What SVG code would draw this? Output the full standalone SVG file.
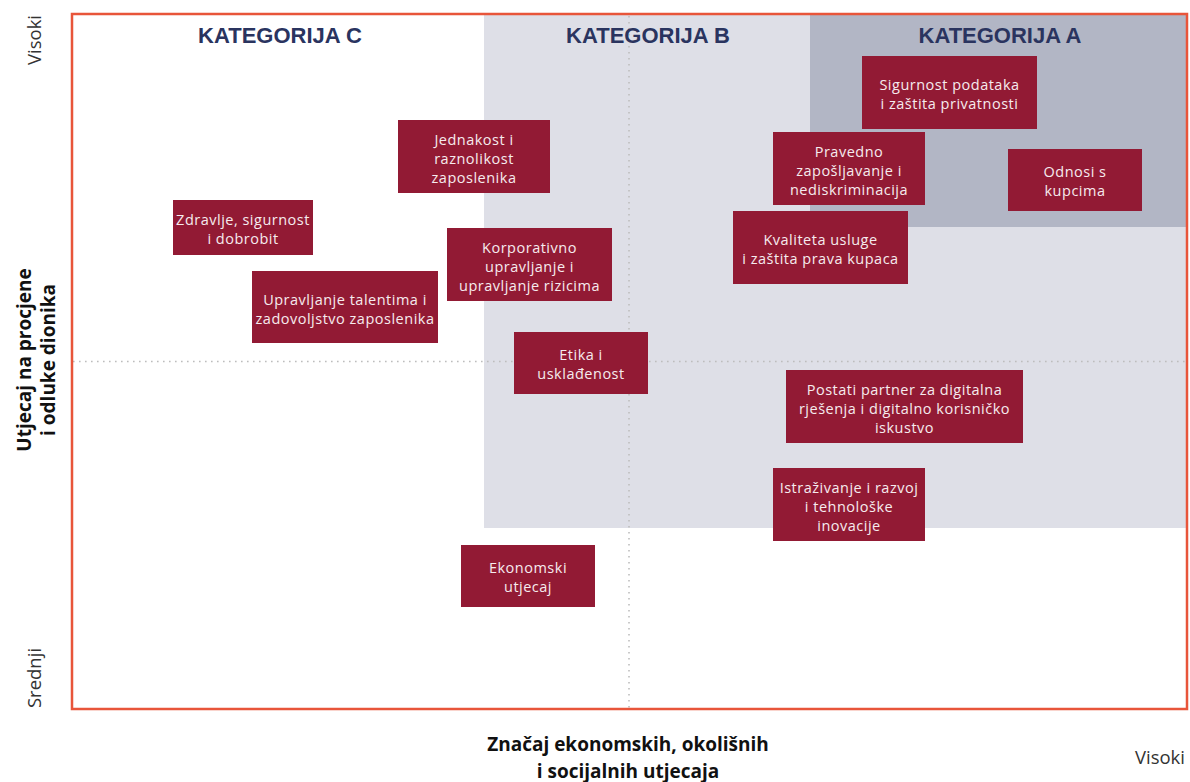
<svg xmlns="http://www.w3.org/2000/svg" width="1190" height="782" viewBox="0 0 1190 782">
<style>
.box{fill:#921A34}
.bt{font-family:"Open Sans","Liberation Sans",sans-serif;font-size:14.5px;letter-spacing:0.5px;fill:#F6EBEE;text-anchor:middle}
.hd{font-family:"Liberation Sans",Arial,sans-serif;font-size:22px;font-weight:bold;fill:#2A345F;text-anchor:middle}
.ax{font-family:"Open Sans","Liberation Sans",sans-serif;font-size:18.5px;fill:#333;text-anchor:middle}
.axb{font-family:"Open Sans","Liberation Sans",sans-serif;font-size:19px;font-weight:bold;fill:#111;text-anchor:middle}
.dot{stroke:#BDBDBD;stroke-width:1.6;stroke-dasharray:1.6 4.4;fill:none}
</style>
<rect width="1190" height="782" fill="#fff"/>
<g id="regions">
<rect x="484" y="14" width="703" height="514" fill="#DEDFE7"/>
<rect x="810" y="14" width="377" height="213" fill="#B2B6C5"/>
</g>
<g id="grid">
<line class="dot" x1="629" y1="16" x2="629" y2="708"/>
<line class="dot" x1="73" y1="361.5" x2="1186" y2="361.5"/>
</g>
<rect id="frame" x="72" y="14" width="1115" height="695" fill="none" stroke="#E8553A" stroke-width="2.5"/>
<g id="headers">
<text class="hd" x="280" y="43">KATEGORIJA C</text>
<text class="hd" x="648" y="43">KATEGORIJA B</text>
<text class="hd" x="1000" y="43">KATEGORIJA A</text>
</g>
<g id="n1"><rect class="box" x="862" y="56" width="175" height="73"/><text class="bt" x="949.5" y="89.5">Sigurnost podataka</text><text class="bt" x="949.5" y="108.5">i zaštita privatnosti</text></g>
<g id="n2"><rect class="box" x="398" y="120" width="152" height="73"/><text class="bt" x="474" y="144.5">Jednakost i</text><text class="bt" x="474" y="163.5">raznolikost</text><text class="bt" x="474" y="182.5">zaposlenika</text></g>
<g id="n3"><rect class="box" x="773" y="132" width="152" height="73"/><text class="bt" x="849" y="156.5">Pravedno</text><text class="bt" x="849" y="175.5">zapošljavanje i</text><text class="bt" x="849" y="194.5">nediskriminacija</text></g>
<g id="n4"><rect class="box" x="1008" y="149" width="134" height="62"/><text class="bt" x="1075" y="176.5">Odnosi s</text><text class="bt" x="1075" y="195.5">kupcima</text></g>
<g id="n5"><rect class="box" x="173" y="200" width="140" height="55"/><text class="bt" x="243" y="224.5">Zdravlje, sigurnost</text><text class="bt" x="243" y="243.5">i dobrobit</text></g>
<g id="n6"><rect class="box" x="733" y="211" width="175" height="73"/><text class="bt" x="820.5" y="244.5">Kvaliteta usluge</text><text class="bt" x="820.5" y="263.5">i zaštita prava kupaca</text></g>
<g id="n7"><rect class="box" x="447" y="228" width="165" height="73"/><text class="bt" x="529.5" y="252.5">Korporativno</text><text class="bt" x="529.5" y="271.5">upravljanje i</text><text class="bt" x="529.5" y="290.5">upravljanje rizicima</text></g>
<g id="n8"><rect class="box" x="252" y="271" width="186" height="72"/><text class="bt" x="345" y="304.5">Upravljanje talentima i</text><text class="bt" x="345" y="323.5">zadovoljstvo zaposlenika</text></g>
<g id="n9"><rect class="box" x="514" y="332" width="134" height="62"/><text class="bt" x="581" y="359.5">Etika i</text><text class="bt" x="581" y="378.5">usklađenost</text></g>
<g id="n10"><rect class="box" x="786" y="370" width="237" height="73"/><text class="bt" x="904.5" y="394.5">Postati partner za digitalna</text><text class="bt" x="904.5" y="413.5">rješenja i digitalno korisničko</text><text class="bt" x="904.5" y="432.5">iskustvo</text></g>
<g id="n11"><rect class="box" x="773" y="468" width="152" height="73"/><text class="bt" x="849" y="492.5">Istraživanje i razvoj</text><text class="bt" x="849" y="511.5">i tehnološke</text><text class="bt" x="849" y="530.5">inovacije</text></g>
<g id="n12"><rect class="box" x="461" y="545" width="134" height="62"/><text class="bt" x="528" y="572.5">Ekonomski</text><text class="bt" x="528" y="591.5">utjecaj</text></g>
<g id="axes">
<text class="ax" transform="translate(41,40) rotate(-90)">Visoki</text>
<text class="ax" transform="translate(41,678) rotate(-90)">Srednji</text>
<text class="axb" transform="translate(31,360) rotate(-90)">Utjecaj na procjene</text>
<text class="axb" transform="translate(55,360) rotate(-90)">i odluke dionika</text>
<text class="axb" x="628" y="751">Značaj ekonomskih, okolišnih</text>
<text class="axb" x="628" y="778">i socijalnih utjecaja</text>
<text class="ax" x="1160" y="764">Visoki</text>
</g>
</svg>
